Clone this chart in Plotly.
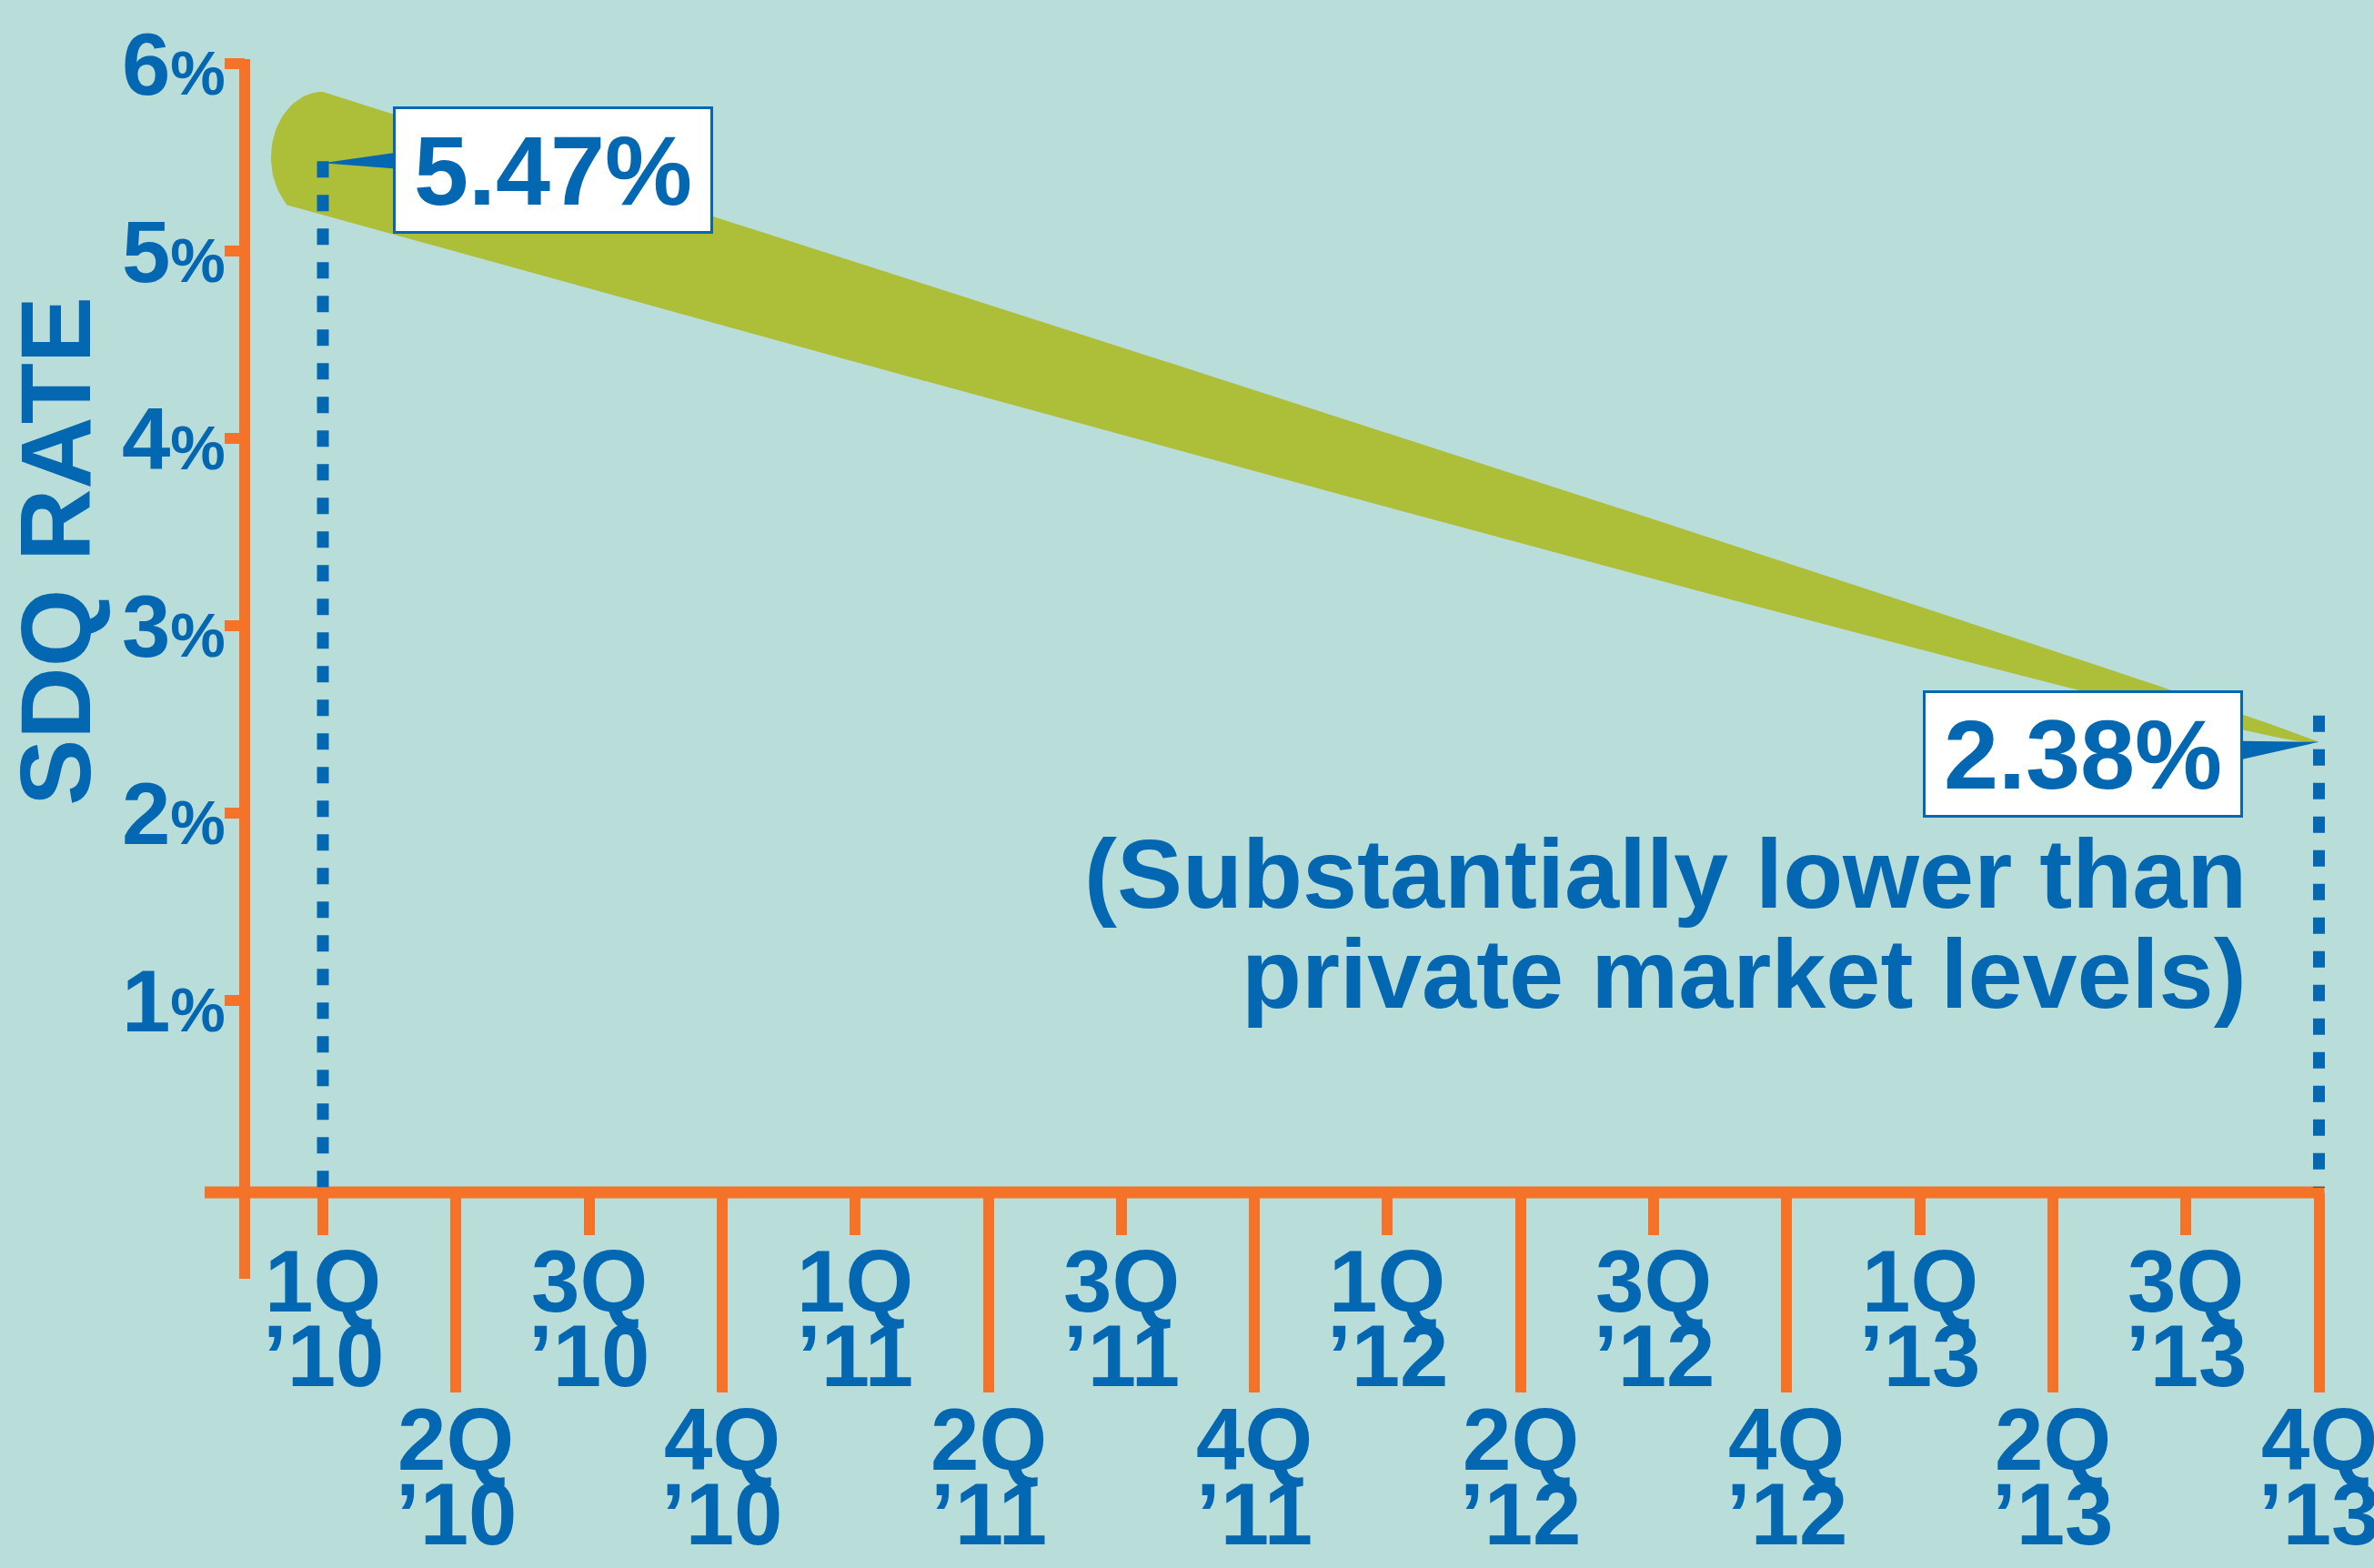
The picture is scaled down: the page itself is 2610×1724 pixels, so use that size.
import numpy as np
import plotly.graph_objects as go

# ---------------- data ----------------
quarter_names = ["1Q", "2Q", "3Q", "4Q", "1Q", "2Q", "3Q", "4Q",
                 "1Q", "2Q", "3Q", "4Q", "1Q", "2Q", "3Q", "4Q"]
quarter_years = ["’10", "’10", "’10", "’10", "’11", "’11", "’11", "’11",
                 "’12", "’12", "’12", "’12", "’13", "’13", "’13", "’13"]
y_tick_values = [1, 2, 3, 4, 5, 6]
y_tick_numbers = ["1", "2", "3", "4", "5", "6"]
rate_quarter_index = [0, 15]          # 1Q '10 and 4Q '13
rate_values = [5.47, 2.38]
rate_labels = ["5.47%", "2.38%"]
note_lines = ["(Substantially lower than", "private market levels)"]
axis_title = "SDQ RATE"

# ---------------- style ----------------
BG = "#b9ddd8"
ORANGE = "#f47329"
BLUE = "#0467b1"
GREEN = "#adbe38"
FONT = "Liberation Sans, Arial, Helvetica, sans-serif"

W, H = 2610, 1724
X0_PX, DX = 355.0, 146.3      # pixel of first quarter, pixels per quarter
Y0_PX, DY = 1306.0, 206.0     # pixel of 0 %, pixels per 1 %
x_range = [-X0_PX / DX, (W - X0_PX) / DX]
y_range = [(Y0_PX - H) / DY, Y0_PX / DY]


def px_dx(p):
    return p / DX


def px_dy(p):
    return p / DY


n_q = len(quarter_names)
x_idx = list(range(n_q))

fig = go.Figure()

# ---------------- tapered band ----------------
i0, i1 = rate_quarter_index
v0, v1 = rate_values
span = i1 - i0


def center(x):
    return v0 + (v1 - v0) * (x - i0) / span


TOP_W, BOT_W = 0.38, 0.28
xt = np.linspace(i1, i0, 160)
top = center(xt) + TOP_W * np.clip(1 - (xt - i0) / span, 0, None) ** 0.8
cap_rx, cap_ry = 0.39, 0.35
cap_cy = v0 + TOP_W - cap_ry
th = np.radians(np.linspace(90, 225, 40))
cap_x = i0 + cap_rx * np.cos(th)
cap_y = cap_cy + cap_ry * np.sin(th)
xb = np.linspace(cap_x[-1], i1, 160)
bot = center(xb) - BOT_W * np.clip((i1 - xb) / (i1 - cap_x[-1]), 0, None) ** 0.5
band_x = np.concatenate([xt, cap_x, xb])
band_y = np.concatenate([top, cap_y, bot])
fig.add_trace(go.Scatter(x=band_x, y=band_y, mode="lines", fill="toself",
                         fillcolor=GREEN, line=dict(width=0, color=GREEN),
                         hoverinfo="skip", showlegend=False))

# ---------------- dotted drop lines ----------------
drop_ext = [px_dy(2), px_dy(29)]
for qi, v, ext in zip(rate_quarter_index, rate_values, drop_ext):
    fig.add_trace(go.Scatter(x=[qi, qi], y=[v + ext, 0], mode="lines",
                             line=dict(color=BLUE, width=13, dash="18px,19px"),
                             hoverinfo="skip", showlegend=False))

# ---------------- pointers + boxes ----------------
box_specs = [
    # (xshift of box edge, side, box center yshift, pointer base center shift, half height)
    (77, "left", -7.5, 2.5, 8.5),
    (-84, "right", -13, -9, 10),
]
for qi, v, lab, (xs, side, ys, pc, hh) in zip(rate_quarter_index, rate_values,
                                               rate_labels, box_specs):
    bx = qi + px_dx(xs)
    px_ = [qi, bx, bx, qi]
    py_ = [v, v + px_dy(pc + hh), v + px_dy(pc - hh), v]
    fig.add_trace(go.Scatter(x=px_, y=py_, mode="lines", fill="toself",
                             fillcolor=BLUE, line=dict(width=0, color=BLUE),
                             hoverinfo="skip", showlegend=False))
    fig.add_annotation(x=qi, y=v, xref="x", yref="y", xshift=xs, yshift=ys,
                       xanchor=side, yanchor="middle", text=lab, showarrow=False,
                       font=dict(family=FONT, size=108, color=BLUE, weight="bold"),
                       bgcolor="white", bordercolor=BLUE, borderwidth=3,
                       borderpad=0, width=346, height=134, align="center",
                       valign="middle")

# ---------------- note text ----------------
note_shift = [(-78, -145), (-78, -255)]
for line, (xs, ys) in zip(note_lines, note_shift):
    fig.add_annotation(x=rate_quarter_index[1], y=rate_values[1], xref="x", yref="y",
                       xshift=xs, yshift=ys, xanchor="right", yanchor="middle",
                       text=line, showarrow=False,
                       font=dict(family=FONT, size=108, color=BLUE, weight="bold"))

# ---------------- x tick labels (two rows) ----------------
for i in x_idx:
    lower = (i % 2 == 1)
    base = -276 if lower else -102
    fig.add_annotation(x=i, y=0, xref="x", yref="y", yshift=base,
                       xanchor="center", yanchor="middle", text=quarter_names[i],
                       showarrow=False,
                       font=dict(family=FONT, size=96, color=BLUE, weight="bold"))
    fig.add_annotation(x=i, y=0, xref="x", yref="y", yshift=base - 82,
                       xanchor="center", yanchor="middle", text=quarter_years[i],
                       showarrow=False,
                       font=dict(family=FONT, size=96, color=BLUE, weight="bold"))

# ---------------- axis title ----------------
fig.add_annotation(x=60 / W, y=1 - 606 / H, xref="paper", yref="paper",
                   text=axis_title, textangle=-90, showarrow=False,
                   xanchor="center", yanchor="middle",
                   font=dict(family=FONT, size=110, color=BLUE, weight="bold"))

# ---------------- axis lines ----------------
yaxis_x = -px_dx(X0_PX - 269)
fig.add_shape(type="line", xref="x", yref="y", x0=yaxis_x, x1=yaxis_x,
              y0=px_dy(Y0_PX - 65), y1=-px_dy(1406 - Y0_PX),
              line=dict(color=ORANGE, width=12), layer="below")
xaxis_v = -px_dy(1311 - Y0_PX)
fig.add_shape(type="line", xref="x", yref="y", x0=-px_dx(X0_PX - 225),
              x1=n_q - 1 + px_dx(6), y0=xaxis_v, y1=xaxis_v,
              line=dict(color=ORANGE, width=13), layer="below")

y_tick_text = [f"{n}<span style='font-size:68px'>%</span>" for n in y_tick_numbers]

fig.update_layout(
    width=W, height=H, autosize=False,
    margin=dict(l=0, r=0, t=0, b=0),
    paper_bgcolor=BG, plot_bgcolor=BG,
    showlegend=False,
    xaxis=dict(range=x_range, anchor="free", position=1 - 1311 / H,
               tickmode="array", tickvals=x_idx[1::2], ticks="outside",
               ticklen=219, tickwidth=12, tickcolor=ORANGE,
               showticklabels=False, showgrid=False, zeroline=False,
               showline=False,
               minor=dict(tickmode="array", tickvals=x_idx[0::2],
                          ticks="outside", ticklen=46, tickwidth=12,
                          tickcolor=ORANGE, showgrid=False)),
    yaxis=dict(range=y_range, anchor="free", position=269 / W,
               tickmode="array", tickvals=y_tick_values, ticktext=y_tick_text,
               ticks="outside", ticklen=22, tickwidth=12, tickcolor=ORANGE,
               ticklabelstandoff=-20,
               tickfont=dict(family=FONT, size=96, color=BLUE, weight="bold"),
               showgrid=False, zeroline=False, showline=False),
)

fig.write_html("out.html")
